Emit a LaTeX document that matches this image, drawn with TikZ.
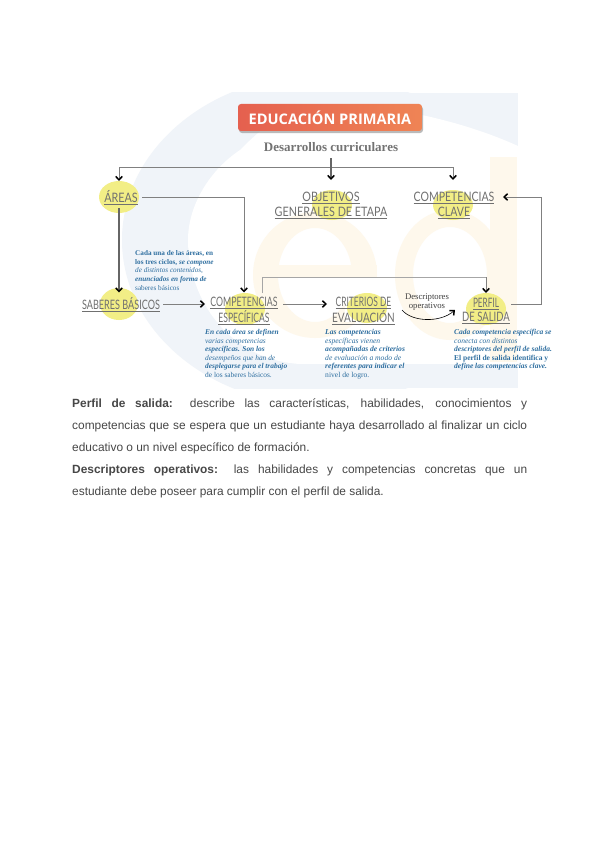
\documentclass[tikz,border=0pt]{standalone}
\usepackage{fontspec}
\usepackage{graphicx}
\setmainfont{Liberation Sans}
\newfontfamily\labf{Lato}
\newfontfamily\serf{Liberation Serif}
\newfontfamily\banf{Open Sans}
\usetikzlibrary{arrows.meta,shadows,calc}
\newcommand\ulab[2]{\leavevmode\vtop{\hbox{\scalebox{#1}[1]{#2}}\kern1.2pt\hrule height .9pt}}
\newcommand\nbi{\bfseries\itshape}
\newcommand\nmi{\mdseries\itshape}
\newcommand\nbu{\bfseries\upshape}
\newcommand\nmu{\mdseries\upshape}
\begin{document}
\begin{tikzpicture}[x=1pt,y=-1pt,
 lbl/.style={font=\labf\fontsize{13}{13.5}\selectfont,text=black!56,align=center,inner sep=0pt},
 note/.style={text=notec,align=left,inner sep=0pt,anchor=north west},
 conn/.style={draw=black!50,line width=.8pt},
 lightconn/.style={draw=black!35,line width=.7pt},
 tip/.style={-{Straight Barb[black,length=3.5pt,width=6.5pt,line width=1.5pt]}},
 thickconn/.style={draw=black!60,line width=1.2pt}]
\definecolor{notec}{HTML}{2F6FA0}
\definecolor{paleb}{HTML}{F0F4F9}
\definecolor{paleo}{HTML}{FEF8EC}
\definecolor{yel}{HTML}{F2EE86}
\definecolor{banl}{HTML}{E5604F}
\definecolor{banr}{HTML}{EF8455}
\useasboundingbox (0,0) rectangle (600,848);
\fill[white] (0,0) rectangle (600,848);
\begin{scope}
\clip (80,93) rectangle (518,388);
% blue background
\fill[paleb] (320,240) ellipse[x radius=198,y radius=165];
\fill[paleb] (300,93) rectangle (518,165);
\fill[paleb] (240,363) rectangle (518,388);
\fill[white] (188,240) .. controls (188,205) and (210,170) .. (240,150)
  .. controls (260,130) and (280,112) .. (310,106)
  .. controls (360,100) and (450,115) .. (518,146) -- (518,365) -- (300,364)
  .. controls (230,360) and (188,300) .. (188,240) -- cycle;
% "e"
\begin{scope}[even odd rule]
\fill[paleo] (315,275) ellipse[x radius=62,y radius=63]
  (315,275) ellipse[x radius=37,y radius=47];
\end{scope}
\fill[paleo] (272,265) rectangle (377,277);
\fill[white] (345,277.5) rectangle (380,322);
% "d"
\begin{scope}[even odd rule]
\fill[paleo] (450,275) ellipse[x radius=55,y radius=65]
  (450,275) ellipse[x radius=37,y radius=48];
\end{scope}
\fill[paleo] (490,157) rectangle (517,362);
\fill[paleb] (300,364) rectangle (518,388);
\end{scope}
% banner
\node[minimum width=184pt,minimum height=27pt,inner sep=0pt,rounded corners=3pt,
  left color=banl,right color=banr,
  drop shadow={shadow xshift=1pt,shadow yshift=-2pt,fill=black!45,opacity=.6},
  text=white,font=\banf\fontsize{14.6}{16}\selectfont\bfseries] (banner) at (330,117.5) {EDUCACIÓN PRIMARIA};
\node[font=\serf\fontsize{13}{14}\selectfont\bfseries,text=black!55,inner sep=0pt] (des) at (331,147) {Desarrollos curriculares};
% yellow spots
\fill[yel] (119,197) ellipse[x radius=20,y radius=16];
\fill[yel] (332,205) ellipse[x radius=20,y radius=15];
\fill[yel] (453,205) ellipse[x radius=20,y radius=15];
\fill[yel] (119,304) ellipse[x radius=19,y radius=16];
\fill[yel] (245,309) ellipse[x radius=20,y radius=16];
\fill[yel] (367,308) ellipse[x radius=20,y radius=15];
\fill[yel] (486,309) ellipse[x radius=20,y radius=16];
% labels
\node[lbl] (areas) at (121,198) {\ulab{.83}{ÁREAS}};
\node[lbl] (obj) at (331,205.5) {\ulab{.83}{OBJETIVOS}\\[1.5pt]\ulab{.83}{GENERALES DE ETAPA}};
\node[lbl] (cla) at (454,205.5) {\ulab{.81}{COMPETENCIAS}\\[1.5pt]\ulab{.81}{CLAVE}};
\node[lbl] (sab) at (121,305) {\ulab{.70}{SABERES BÁSICOS}};
\node[lbl] (esp) at (244,311) {\ulab{.675}{COMPETENCIAS}\\\ulab{.66}{ESPECÍFICAS}};
\node[lbl] (cri) at (363.5,311) {\ulab{.65}{CRITERIOS DE}\\\ulab{.77}{EVALUACIÓN}};
\node[lbl] (per) at (486,311) {\ulab{.63}{PERFIL}\\\ulab{.73}{DE SALIDA}};
\node[font=\serf\fontsize{8.7}{8.5}\selectfont,text=black!75,align=center,inner sep=0pt] (dop) at (427,302) {Descriptores\\operativos};
% notes
\node[note,font=\serf\fontsize{7.2}{8.6}\selectfont] (n1) at (135,250.5) {{\nbu Cada una de las áreas, en}\\{\nbu los tres ciclos, \nbi se compone}\\{\nmi de distintos contenidos,}\\{\nbi enunciados en forma de}\\{\nmu saberes básicos}};
\node[note,font=\serf\fontsize{7.4}{8.6}\selectfont] (n2) at (205,329) {{\nbi En cada área se definen}\\{\nmi varias competencias}\\{\nbi específicas. Son los}\\{\nmi desempeños que han de}\\{\nbi desplegarse para el trabajo}\\{\nmu de los saberes básicos.}};
\node[note,font=\serf\fontsize{7.6}{8.6}\selectfont] (n3) at (325,329) {{\nbi Las competencias}\\{\nmi específicas vienen}\\{\nbi acompañadas de criterios}\\{\nmi de evaluación a modo de}\\{\nbi referentes para indicar el}\\{\nmu nivel de logro.}};
\node[note,font=\serf\fontsize{7.5}{8.6}\selectfont] (n4) at (454,329) {{\nbi Cada competencia específica se}\\{\nmi conecta con distintos}\\{\nbi descriptores del perfil de salida.}\\{\nbu El perfil de salida identifica y}\\{\nbi define las competencias clave.}};
% connectors
\coordinate (hl) at (119,167);
\coordinate (hr) at (453,167);
\coordinate (areasE) at (142,197);
\coordinate (areasS) at (119,208);
\coordinate (sabN) at (119,292.5);
\coordinate (sabE) at (163,304);
\coordinate (espW) at (205,304);
\coordinate (espN) at (244,292.5);
\coordinate (espN2) at (262,293);
\coordinate (espE) at (283,304);
\coordinate (criW) at (327,304);
\coordinate (criE) at (402,310);
\coordinate (perW) at (455,310);
\coordinate (perN) at (486,293);
\coordinate (perE) at (511,304);
\coordinate (claE) at (503,197);
\draw[conn] (hl) -- (hr);
\draw[conn,tip] (hl) -- (119,181);
\draw[conn,tip] (hr) -- (453,180);
\draw[thickconn,tip] (331,158) -- (331,180);
\draw[conn,tip] (areasE) -- (244,197) -- (espN);
\draw[thickconn,tip] (areasS) -- (sabN);
\draw[conn,tip] (sabE) -- (espW);
\draw[conn,tip] (espE) -- (criW);
\draw[lightconn] (espN2) -- (262,277) -- (486,277);
\draw[conn,tip] (486,277) -- (perN);
\draw[draw=black,line width=.6pt,tip] (criE) .. controls (412,322) and (440,323) .. (perW);
\draw[conn,tip] (perE) -- (541,304) -- (541,197) -- (claE);
% body text
\node[anchor=north west,inner sep=0pt,text width=455pt,align=justify,text=black!72,
 font=\fontsize{11.9}{22}\selectfont] (body) at (72,399) {%
 \textbf{Perfil de salida:} describe las características, habilidades, conocimientos y\linebreak
 competencias que se espera que un estudiante haya desarrollado al finalizar un ciclo\linebreak
 educativo o un nivel específico de formación.\\
 \textbf{Descriptores operativos:} las habilidades y competencias concretas que un\linebreak
 estudiante debe poseer para cumplir con el perfil de salida.};
\end{tikzpicture}
\end{document}
